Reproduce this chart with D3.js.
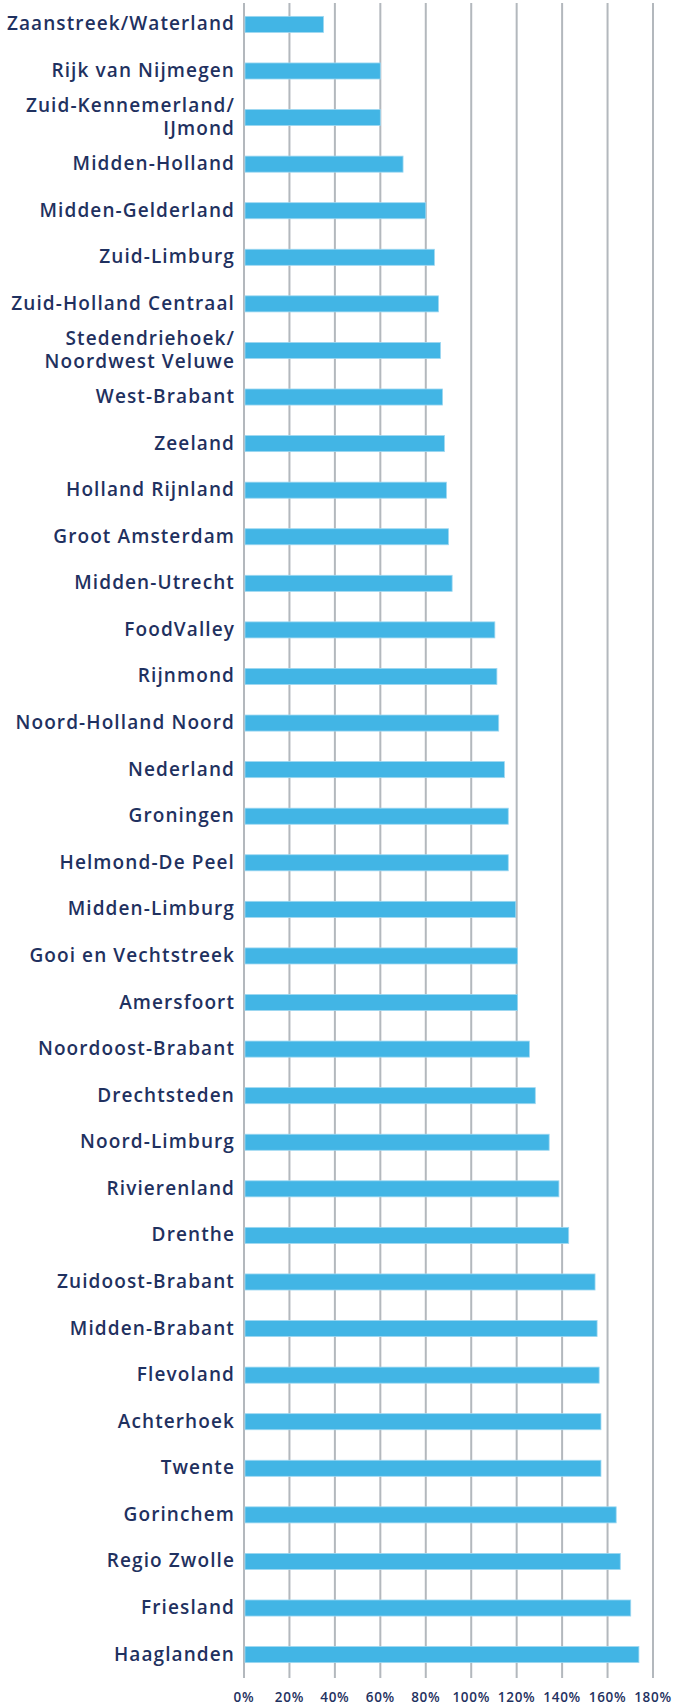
<!DOCTYPE html>
<html>
<head>
<meta charset="utf-8">
<script src="https://cdn.jsdelivr.net/npm/d3@7"></script>
<style>
    body { margin: 0; background: #fff; }
    svg text { font-family: "Open Sans", "Noto Sans", sans-serif; fill: #1f3160; }
</style>
</head>
<body>
<div id="chart"></div>
<script>
const regions = [
    "Zaanstreek/Waterland", "Rijk van Nijmegen", "Zuid-Kennemerland/ IJmond", "Midden-Holland",
    "Midden-Gelderland", "Zuid-Limburg", "Zuid-Holland Centraal", "Stedendriehoek/ Noordwest Veluwe",
    "West-Brabant", "Zeeland", "Holland Rijnland", "Groot Amsterdam", "Midden-Utrecht",
    "FoodValley", "Rijnmond", "Noord-Holland Noord", "Nederland", "Groningen", "Helmond-De Peel",
    "Midden-Limburg", "Gooi en Vechtstreek", "Amersfoort", "Noordoost-Brabant", "Drechtsteden",
    "Noord-Limburg", "Rivierenland", "Drenthe", "Zuidoost-Brabant", "Midden-Brabant", "Flevoland",
    "Achterhoek", "Twente", "Gorinchem", "Regio Zwolle", "Friesland", "Haaglanden"
];
const values = [
    35, 60, 60, 70,
    80, 83.8, 85.6, 86.5,
    87.4, 88.2, 89.1, 90, 91.6,
    110.4, 111.3, 112.1, 114.6, 116.3, 116.3,
    119.6, 120.4, 120.4, 125.6, 128.2,
    134.3, 138.6, 142.9, 154.5, 155.4, 156.3,
    157.1, 157.1, 163.8, 165.6, 170.2, 173.8
];
const ticks = [0, 20, 40, 60, 80, 100, 120, 140, 160, 180];

const width = 675, height = 1705;
const margin = {top: 1, right: 22, bottom: 27, left: 244};

const svg = d3.select("#chart").append("svg")
    .attr("width", width)
    .attr("height", height);

const x = d3.scaleLinear()
    .domain([0, 180])
    .range([margin.left, width - margin.right]);

const y = d3.scaleBand()
    .domain(regions)
    .range([margin.top, height - margin.bottom])
    .paddingInner(0.655)
    .paddingOuter(0.33);

// vertical gridlines
svg.append("g")
    .selectAll("line")
    .data(ticks)
    .join("line")
    .attr("x1", d => x(d))
    .attr("x2", d => x(d))
    .attr("y1", 3)
    .attr("y2", height - margin.bottom)
    .attr("stroke", "#b3b8bd")
    .attr("stroke-width", 2);

// bars
svg.append("g")
    .selectAll("rect")
    .data(values)
    .join("rect")
    .attr("x", x(0) + 1)
    .attr("y", (d, i) => y(regions[i]))
    .attr("width", d => x(d) - x(0) - 1)
    .attr("height", y.bandwidth())
    .attr("fill", "#42b5e5")
    .attr("stroke", "#9fd8f1")
    .attr("stroke-width", 0.8);

// category labels, split after "/ "
const labels = svg.append("g")
    .attr("font-size", 19)
    .attr("font-weight", 600)
    .attr("letter-spacing", 1.1)
    .attr("text-anchor", "end")
    .selectAll("text")
    .data(regions)
    .join("text")
    .attr("x", 235)
    .attr("y", d => y(d) + y.bandwidth() / 2);

labels.each(function (d) {
    const lines = d.split("/ ").map((s, i, a) => i < a.length - 1 ? s + "/" : s);
    const lh = 23;
    const t = d3.select(this);
    lines.forEach((line, i) => {
        t.append("tspan")
            .attr("x", 235)
            .attr("dy", i === 0 ? (-(lines.length - 1) * lh / 2 - 1) : lh)
            .attr("dominant-baseline", "central")
            .text(line);
    });
});

// x tick labels
svg.append("g")
    .attr("font-size", 13.5)
    .attr("font-weight", 600)
    .attr("letter-spacing", 0.7)
    .attr("text-anchor", "middle")
    .selectAll("text")
    .data(ticks)
    .join("text")
    .attr("x", d => x(d))
    .attr("y", 1697)
    .attr("dominant-baseline", "central")
    .text(d => d + "%");
</script>
</body>
</html>
